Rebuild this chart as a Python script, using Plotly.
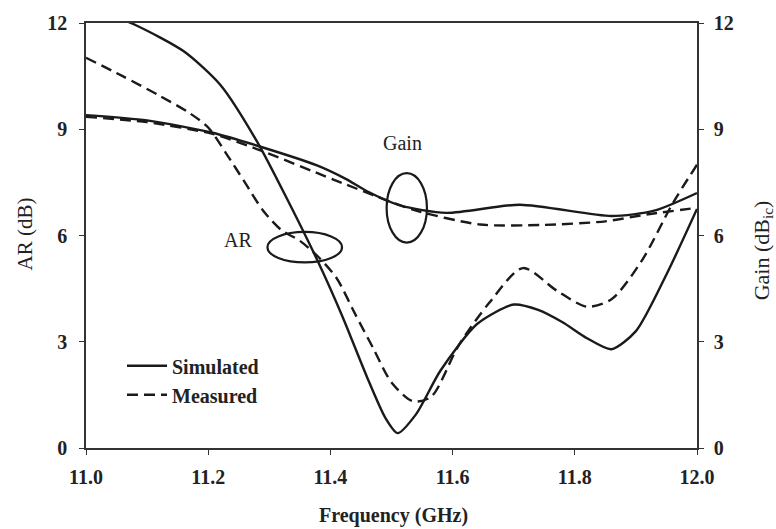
import plotly.graph_objects as go

# Frequency (GHz) and values
f_ar_sim = [11.0, 11.08, 11.16, 11.22, 11.28, 11.33, 11.38, 11.42, 11.46, 11.49, 11.51, 11.54, 11.58, 11.64, 11.7, 11.74, 11.78, 11.82, 11.86, 11.9, 11.95, 12.0]
ar_sim = [12.5, 11.95, 11.2, 10.25, 8.65, 7.0, 5.25, 3.7, 2.0, 0.85, 0.42, 0.95, 2.18, 3.5, 4.05, 3.9, 3.55, 3.1, 2.79, 3.3, 4.9, 6.75]

f_ar_meas = [11.0, 11.06, 11.12, 11.17, 11.2, 11.23, 11.26, 11.29, 11.32, 11.35, 11.38, 11.41, 11.44, 11.47, 11.5, 11.535, 11.565, 11.61, 11.66, 11.715, 11.77, 11.82, 11.86, 11.91, 11.96, 12.0]
ar_meas = [11.02, 10.5, 9.95, 9.45, 9.05, 8.3, 7.5, 6.7, 6.15, 5.85, 5.4, 4.8, 3.8, 2.82, 1.85, 1.32, 1.45, 2.9, 4.1, 5.08, 4.45, 3.99, 4.2, 5.3, 6.9, 8.0]

f_gain_sim = [11.0, 11.1, 11.207, 11.283, 11.378, 11.425, 11.46, 11.514, 11.59, 11.71, 11.86, 11.93, 12.0]
gain_sim = [9.4, 9.25, 8.9, 8.52, 7.98, 7.6, 7.25, 6.85, 6.64, 6.87, 6.55, 6.7, 7.2]

f_gain_meas = [11.0, 11.1, 11.207, 11.283, 11.405, 11.535, 11.645, 11.75, 11.85, 11.92, 12.0]
gain_meas = [9.35, 9.2, 8.87, 8.42, 7.58, 6.73, 6.31, 6.3, 6.4, 6.6, 6.78]

x_ticks = [11.0, 11.2, 11.4, 11.6, 11.8, 12.0]
x_tick_text = ["11.0", "11.2", "11.4", "11.6", "11.8", "12.0"]
y_ticks = [0, 3, 6, 9, 12]

FONT = "Liberation Serif"
BLACK = "#1a1a1a"
TXT = "#222"
DASH = "11px,6px"
LW = 2.4

fig = go.Figure()
fig.add_trace(go.Scatter(x=f_ar_sim, y=ar_sim, mode="lines", name="Simulated",
                         line=dict(color=BLACK, width=LW, shape="spline", smoothing=0.7)))
fig.add_trace(go.Scatter(x=f_ar_meas, y=ar_meas, mode="lines", name="Measured",
                         line=dict(color=BLACK, width=LW, dash=DASH, shape="spline", smoothing=0.8)))
fig.add_trace(go.Scatter(x=f_gain_sim, y=gain_sim, mode="lines", showlegend=False, yaxis="y2",
                         line=dict(color=BLACK, width=LW, shape="spline", smoothing=0.7)))
fig.add_trace(go.Scatter(x=f_gain_meas, y=gain_meas, mode="lines", showlegend=False, yaxis="y2",
                         line=dict(color=BLACK, width=LW, dash=DASH, shape="spline", smoothing=0.7)))

# ellipses
fig.add_shape(type="circle", xref="x", yref="y", x0=11.358 - 0.061, x1=11.358 + 0.061,
              y0=5.67 - 0.43, y1=5.67 + 0.43, line=dict(color=BLACK, width=2.2))
fig.add_shape(type="circle", xref="x", yref="y", x0=11.525 - 0.033, x1=11.525 + 0.033,
              y0=6.78 - 0.98, y1=6.78 + 0.98, line=dict(color=BLACK, width=2.2))

fig.add_annotation(x=11.248, y=5.87, xref="x", yref="y", text="AR", showarrow=False,
                   xanchor="center", yanchor="middle",
                   font=dict(family=FONT, size=20, color=TXT))
fig.add_annotation(x=11.518, y=8.6, xref="x", yref="y", text="Gain", showarrow=False,
                   xanchor="center", yanchor="middle",
                   font=dict(family=FONT, size=20, color=TXT))

# axis titles
fig.add_annotation(xref="paper", yref="paper", x=(25 - 86) / 611, y=(448 - 232) / 430,
                   xanchor="center", yanchor="middle",
                   text="AR (dB)", textangle=-90, showarrow=False,
                   font=dict(family=FONT, size=21, color=TXT))
fig.add_annotation(xref="paper", yref="paper", x=(763 - 86) / 611, y=(448 - 248) / 430,
                   xanchor="center", yanchor="middle",
                   text="Gain (dB<sub>ic</sub>)", textangle=-90, showarrow=False,
                   font=dict(family=FONT, size=22, color=TXT))
fig.add_annotation(xref="paper", yref="paper", x=(393 - 86) / 611, y=(448 - 516) / 430,
                   xanchor="center", yanchor="middle",
                   text="<b>Frequency (GHz)</b>", showarrow=False,
                   font=dict(family=FONT, size=20, color=TXT))

axis_common = dict(showgrid=False, zeroline=False, showline=True, linecolor="#333", linewidth=1.5,
                   ticks="outside", ticklen=5, tickcolor="#333", tickwidth=1.2,
                   tickfont=dict(family=FONT, size=20, color=TXT, weight="bold"))

fig.update_layout(
    width=776, height=529,
    margin=dict(l=86, r=79, t=18, b=81),
    paper_bgcolor="white", plot_bgcolor="white",
    xaxis=dict(range=[11.0, 12.0], tickvals=x_ticks, ticktext=x_tick_text, mirror=True,
               ticklabelstandoff=5, **axis_common),
    yaxis=dict(range=[0, 12], tickvals=y_ticks, ticklabelstandoff=8, **axis_common),
    yaxis2=dict(range=[0, 12], tickvals=y_ticks, overlaying="y", side="right",
                ticklabelstandoff=6, **axis_common),
    legend=dict(x=(122 - 86) / 611, y=(448 - 345) / 430, xanchor="left", yanchor="top",
                bgcolor="rgba(0,0,0,0)", font=dict(family=FONT, size=20, color=TXT, weight="bold"),
                tracegroupgap=0, itemwidth=40),
    showlegend=True,
)

fig.write_html("out.html")
